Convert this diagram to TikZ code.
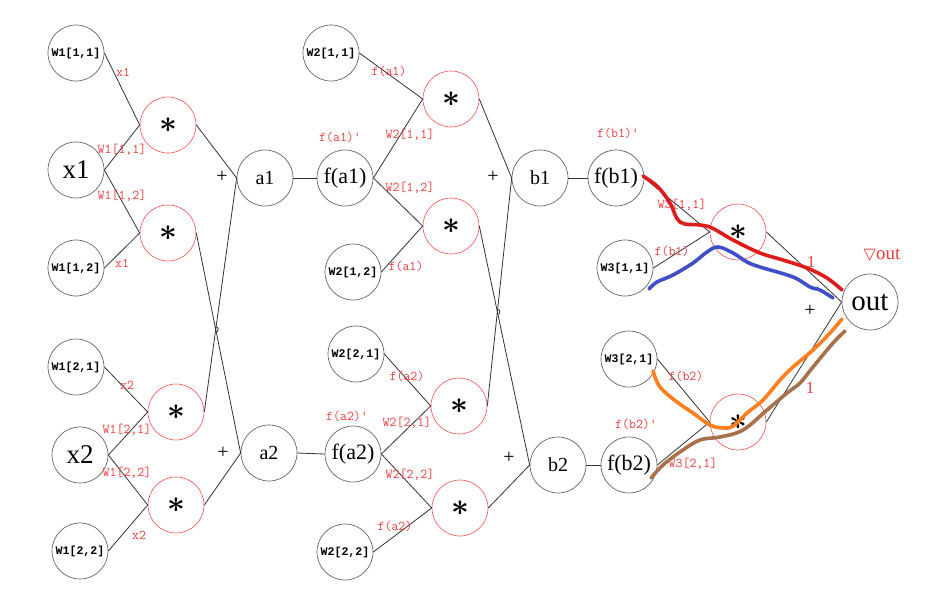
\documentclass[tikz,border=0pt]{standalone}
\usepackage{fontspec}
\usepackage{graphicx}
\setmainfont{Liberation Serif}
\newfontfamily\wfont{Liberation Mono}
\newfontfamily\symfont{DejaVu Sans}
\usetikzlibrary{intersections}
\definecolor{lred}{HTML}{F03C3C}
\definecolor{sred}{HTML}{E01B1B}
\definecolor{sblue}{HTML}{3F4FC9}
\definecolor{sorange}{HTML}{FF7F1E}
\definecolor{sbrown}{HTML}{A8714A}
\tikzset{
  circ/.style={circle, draw=black!60, line width=0.7pt, minimum size=56pt, inner sep=0pt},
  wn/.style={circ, font=\wfont\bfseries\fontsize{11.6}{12}\selectfont},
  bn/.style={circ, font=\fontsize{27}{27}\selectfont},
  an/.style={circ, font=\fontsize{20}{20}\selectfont},
  fn/.style={circ, font=\fontsize{22}{22}\selectfont},
  mn/.style={circle, draw=red!70, line width=0.6pt, minimum size=56pt, inner sep=0pt},
  lb/.style={text=lred, font=\ttfamily\fontsize{13.5}{13.5}\selectfont, inner sep=0pt},
  nl/.style={text=lred, font=\fontsize{17}{17}\selectfont, inner sep=0pt},
  pl/.style={font=\fontsize{20}{20}\selectfont, inner sep=0pt},
  ln/.style={draw=black!80, line width=0.8pt},
  stroke/.style={line width=3.6pt, line cap=round, line join=round}
}
\newcommand{\mul}{\scalebox{3.1}{\boldmath$\ast$}}
\begin{document}
\begin{tikzpicture}[x=1pt,y=-1pt]
\useasboundingbox[fill=white] (0,0) rectangle (931,605);
% column 1
\node[wn] (W11) at (76,53) {W1[1,1]};
\node[bn] (x1) at (76,170) {x1};
\node[wn] (W12) at (76,268) {W1[1,2]};
\node[wn] (W21) at (76,367) {W1[2,1]};
\node[bn] (x2) at (80,455) {x2};
\node[wn] (W22) at (80,551) {W1[2,2]};
% multiplications layer 1
\node[mn] (m1) at (168,125) {\mul};
\node[mn] (m2) at (168,233) {\mul};
\node[mn] (m3) at (176,412) {\mul};
\node[mn] (m4) at (176,505) {\mul};
% a nodes
\node[an] (a1) at (265,178) {a1};
\node[an] (a2) at (269,453) {a2};
\node[fn] (f1) at (345,178) {f(a1)};
\node[fn] (f2) at (353,454) {f(a2)};
% W2
\node[wn] (W211) at (331,53) {W2[1,1]};
\node[wn] (W212) at (353,272) {W2[1,2]};
\node[wn] (W221) at (356,354) {W2[2,1]};
\node[wn] (W222) at (345,552) {W2[2,2]};
% multiplications layer 2
\node[mn] (m5) at (451,99) {\mul};
\node[mn] (m6) at (451,226) {\mul};
\node[mn] (m7) at (459,406) {\mul};
\node[mn] (m8) at (460,508) {\mul};
% b nodes
\node[an] (b1) at (540,178) {b1};
\node[an] (b2) at (558,465) {b2};
\node[fn] (fb1) at (616,178) {f(b1)};
\node[fn] (fb2) at (629,465) {f(b2)};
% W3
\node[wn] (W311) at (625,268) {W3[1,1]};
\node[wn] (W321) at (629,359) {W3[2,1]};
% multiplications layer 3
\node[mn] (m9) at (738,232) {\mul};
\node[mn] (m10) at (738,422) {\mul};
% output
\node[circ, font=\fontsize{29}{29}\selectfont] (out) at (870,302) {out};

% edges layer 1
\draw[ln] (W11.east) -- (m1.west);
\draw[ln] (x1.east) -- (m1.west);
\draw[ln] (x1.east) -- (m2.west);
\draw[ln] (W12.east) -- (m2.west);
\draw[ln] (W21.east) -- (m3.west);
\draw[ln] (x2.east) -- (m3.west);
\draw[ln] (x2.east) -- (m4.west);
\draw[ln] (W22.east) -- (m4.west);
\draw[ln] (m1.east) -- (a1.west);
\draw[ln, name path=pA] (m3.east) -- (a1.west);
\draw[ln, name path=pB] (m2.east) -- (a2.west);
\draw[ln] (m4.east) -- (a2.west);
\draw[ln] (a1.east) -- (f1.west);
\draw[ln] (a2.east) -- (f2.west);
% edges layer 2
\draw[ln] (W211.east) -- (m5.west);
\draw[ln] (f1.east) -- (m5.west);
\draw[ln] (f1.east) -- (m6.west);
\draw[ln] (W212.east) -- (m6.west);
\draw[ln] (W221.east) -- (m7.west);
\draw[ln] (f2.east) -- (m7.west);
\draw[ln] (f2.east) -- (m8.west);
\draw[ln] (W222.east) -- (m8.west);
\draw[ln] (m5.east) -- (b1.west);
\draw[ln, name path=pC] (m7.east) -- (b1.west);
\draw[ln, name path=pD] (m6.east) -- (b2.west);
\draw[ln] (m8.east) -- (b2.west);
\draw[ln] (b1.east) -- (fb1.west);
\draw[ln] (b2.east) -- (fb2.west);
% edges layer 3
\draw[ln] (fb1.east) -- (m9.west);
\draw[ln] (W311.east) -- (m9.west);
\draw[ln] (W321.east) -- (m10.west);
\draw[ln] (fb2.east) -- (m10.west);
\draw[ln] (m9.east) -- (out.west);
\draw[ln] (m10.east) -- (out.west);
% crossing hops
\path[name intersections={of=pA and pB, by=X1}];
\path[name intersections={of=pC and pD, by=X2}];
\draw[ln] ([yshift=2.6pt]X1) arc[start angle=90, end angle=-90, radius=2.6pt];
\draw[ln] ([yshift=2.6pt]X2) arc[start angle=90, end angle=-90, radius=2.6pt];

% plus signs
\node[pl] (p1) at (222,177) {+};
\node[pl] (p2) at (223,453) {+};
\node[pl] (p3) at (493,177) {+};
\node[pl] (p4) at (509,458) {+};
\node[pl] (p5) at (810,311) {+};

% red labels
\node[lb] (l1) at (123,72) {x1};
\node[lb] (l2) at (122,150) {W1[1,1]};
\node[lb] (l3) at (122,196) {W1[1,2]};
\node[lb] (l4) at (122,263) {x1};
\node[lb] (l5) at (127,385) {x2};
\node[lb] (l6) at (127,430) {W1[2,1]};
\node[lb] (l7) at (127,473) {W1[2,2]};
\node[lb] (l8) at (139,535) {x2};
\node[lb] (l9) at (389,71) {f(a1)};
\node[lb] (l10) at (340,137) {f(a1)'};
\node[lb] (l11) at (410,135) {W2[1,1]};
\node[lb] (l12) at (410,188) {W2[1,2]};
\node[lb] (l13) at (406,266) {f(a1)};
\node[lb] (l14) at (407,376) {f(a2)};
\node[lb] (l15) at (347,416) {f(a2)'};
\node[lb] (l16) at (407,423) {W2[2,1]};
\node[lb] (l17) at (410,475) {W2[2,2]};
\node[lb] (l18) at (395,526) {f(a2)};
\node[lb] (l19) at (618,133) {f(b1)'};
\node[lb] (l20) at (682,205) {W3[1,1]};
\node[lb] (l21) at (672,251) {f(b1)};
\node[lb] (l22) at (686,376) {f(b2)};
\node[lb] (l23) at (636,424) {f(b2)'};
\node[lb] (l24) at (693,464) {W3[2,1]};
\node[nl] (l25) at (811,262) {1};
\node[nl] (l26) at (810,388) {1};
\node[text=lred, inner sep=0pt] (l27) at (882,255) {{\symfont\fontsize{16}{16}\selectfont ▽}{\fontsize{19}{19}\selectfont out}};

% freehand strokes
\draw[stroke, draw=sred] plot[smooth, tension=0.6] coordinates {(643,176) (658,187) (670,203) (680,222) (700,225) (712,228) (733,240) (760,253) (783,260) (807,268) (827,278) (842,290)};
\draw[stroke, draw=sblue] plot[smooth, tension=0.6] coordinates {(649,289) (657,282) (673,275) (693,263) (707,252) (718,247) (733,253) (747,262) (760,267) (793,277) (810,287) (820,290) (833,298)};
\draw[stroke, draw=sorange] plot[smooth, tension=0.6] coordinates {(653,371) (660,387) (677,402) (693,413) (710,425) (723,428) (733,426) (747,413) (763,400) (780,380) (793,367) (813,350) (830,333) (842,319)};
\draw[stroke, draw=sbrown] plot[smooth, tension=0.6] coordinates {(651,478) (663,465) (680,452) (700,440) (720,437) (743,430) (767,410) (787,393) (800,383) (813,367) (833,343) (845,331)};
\end{tikzpicture}
\end{document}
